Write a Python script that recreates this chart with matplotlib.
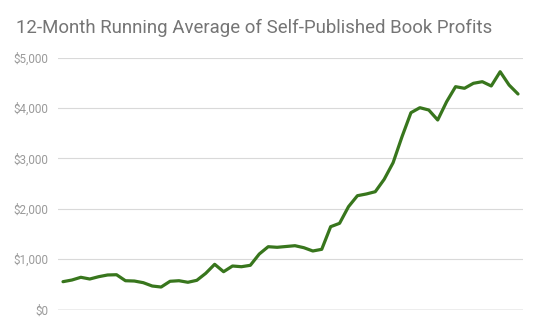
import matplotlib.pyplot as plt
from matplotlib.ticker import FuncFormatter

# 12-month running average, one value per month
profits = [552, 585, 639, 605, 651, 685, 690, 571, 565, 532,
           466, 446, 560, 571, 540, 579, 718, 897, 750, 863,
           849, 877, 1101, 1246, 1234, 1250, 1266, 1226, 1161, 1194,
           1643, 1710, 2040, 2258, 2292, 2337, 2583, 2913, 3429, 3905,
           4004, 3958, 3760, 4123, 4421, 4389, 4488, 4520, 4435, 4718,
           4454, 4276]
y_ticks = [0, 1000, 2000, 3000, 4000, 5000]
title = "12-Month Running Average of Self-Published Book Profits"

plt.rcParams['font.family'] = ['Roboto', 'DejaVu Sans']

fig = plt.figure(figsize=(5.4, 3.34), dpi=100)
ax = fig.add_axes([58 / 540, 24.5 / 334, 465 / 540, 252 / 334])

months = range(len(profits))
ax.plot(months, profits, color='#38761d', linewidth=2.3, solid_joinstyle='round',
        solid_capstyle='round', zorder=3)

ax.set_xlim(-0.56, len(profits) - 1 + 0.56)
ax.set_ylim(0, 5000)
ax.set_yticks(y_ticks)
ax.yaxis.set_major_formatter(FuncFormatter(lambda v, p: f"${v:,.0f}"))
ax.set_xticks([])

ax.grid(axis='y', color='#d9d9d9', linewidth=0.8)
ax.axhline(0, color='#8c8c8c', linewidth=0.9, zorder=2)
for s in ax.spines.values():
    s.set_visible(False)
ax.tick_params(axis='y', length=0, pad=7, labelsize=8.4, labelcolor='#9a9a9a')

fig.text(16 / 540, 1 - 28 / 334, title, fontsize=13.4, color='#757575',
         ha='left', va='center')

fig.savefig('out.png', dpi=100, facecolor='white')
